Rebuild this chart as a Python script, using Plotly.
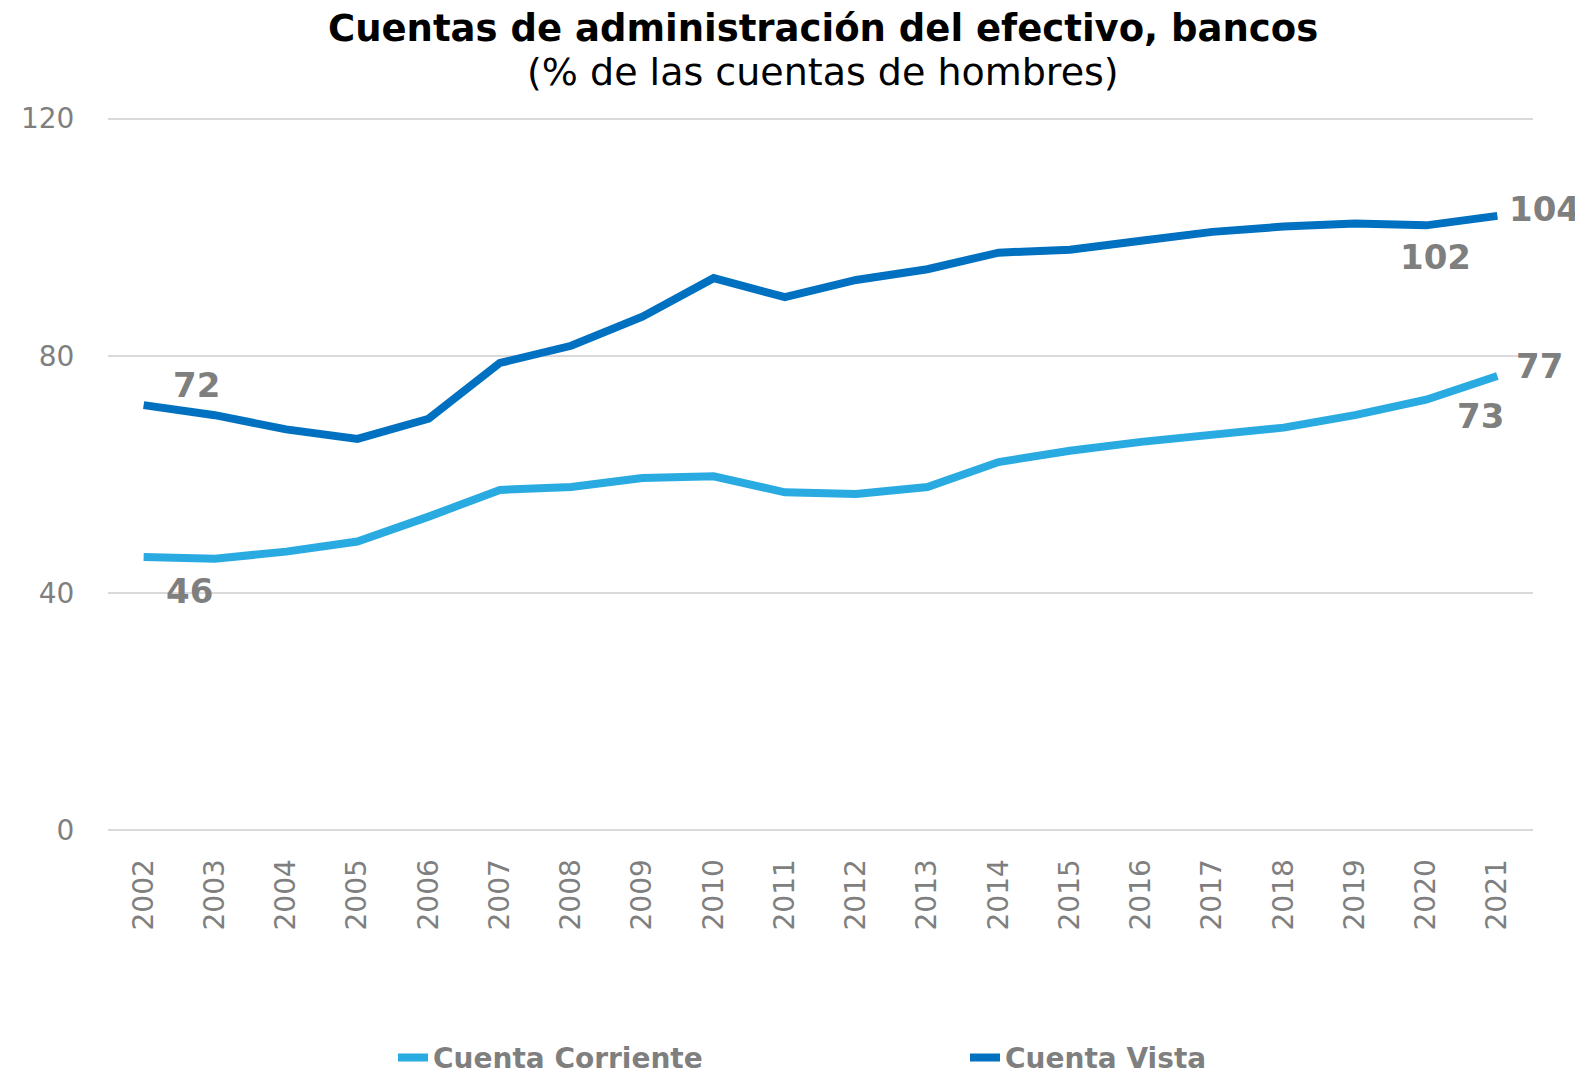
import plotly.graph_objects as go

years = [str(y) for y in range(2002, 2022)]
cuenta_corriente = [46.1, 45.8, 47.0, 48.7, 52.9, 57.4, 57.9, 59.4, 59.7, 57.0,
                    56.7, 57.9, 62.1, 64.0, 65.5, 66.7, 67.9, 70.0, 72.6, 76.6]
cuenta_vista = [71.7, 70.0, 67.6, 66.0, 69.4, 78.8, 81.7, 86.6, 93.1, 89.9,
                92.8, 94.6, 97.4, 97.9, 99.4, 100.9, 101.8, 102.3, 102.0, 103.6]
y_ticks = [0, 40, 80, 120]

FONT = "Verdana, DejaVu Sans, sans-serif"
GRAY = "#7F7F7F"

fig = go.Figure()
fig.add_trace(go.Scatter(
    x=years, y=cuenta_corriente, name="<b>Cuenta Corriente</b>",
    mode="lines", line=dict(color="#29ABE2", width=8),
))
fig.add_trace(go.Scatter(
    x=years, y=cuenta_vista, name="<b>Cuenta Vista</b>",
    mode="lines", line=dict(color="#0070C0", width=8),
))

# data labels: (series values, index, xshift, yshift)
label_specs = [
    (cuenta_vista, 0, 53, 20),
    (cuenta_corriente, 0, 46, -34),
    (cuenta_vista, 18, 9, -32),
    (cuenta_vista, 19, 47, 7),
    (cuenta_corriente, 19, 42, 10),
    (cuenta_corriente, 18, 54, -16),
]
annotations = []
for vals, i, dx, dy in label_specs:
    annotations.append(dict(
        x=i, y=vals[i], xref="x", yref="y",  # category serial number of years[i]
        text=f"<b>{round(vals[i]):d}</b>", showarrow=False,
        xanchor="center", yanchor="middle", xshift=dx, yshift=dy,
        font=dict(family=FONT, size=34, color=GRAY),
    ))

annotations.append(dict(
    x=0.502, y=1.120, xref="paper", yref="paper", showarrow=False,
    text="<b>Cuentas de administración del efectivo, bancos</b>",
    xanchor="center", yanchor="middle",
    font=dict(family=FONT, size=37, color="black"),
))
annotations.append(dict(
    x=0.502, y=1.0600, xref="paper", yref="paper", showarrow=False,
    text="(% de las cuentas de hombres)",
    xanchor="center", yanchor="middle",
    font=dict(family=FONT, size=38, color="black"),
))

fig.update_layout(
    width=1575, height=1068,
    paper_bgcolor="white", plot_bgcolor="white",
    margin=dict(l=100, r=50, t=107, b=242),
    font=dict(family=FONT, color=GRAY),
    annotations=annotations,
    showlegend=True,
    legend=dict(
        orientation="h", x=0.200, xref="paper", xanchor="left",
        y=0.017, yref="container", yanchor="middle",
        font=dict(size=28, color=GRAY),
        entrywidth=527, entrywidthmode="pixels",
    ),
    xaxis=dict(
        type="category", range=[-0.5, 19.5],
        tickangle=-90, tickfont=dict(size=28, color=GRAY),
        showgrid=False, showline=False, zeroline=False,
        ticks="outside", ticklen=13, tickcolor="rgba(0,0,0,0)",
    ),
    yaxis=dict(
        range=[-0.6, 120.6], tickvals=y_ticks,
        tickfont=dict(size=28, color=GRAY),
        showgrid=True, gridcolor="#D9D9D9", gridwidth=2,
        zeroline=False, showline=False,
        ticks="outside", ticklen=27, tickcolor="rgba(0,0,0,0)",
    ),
)

fig.write_html("out.html")
